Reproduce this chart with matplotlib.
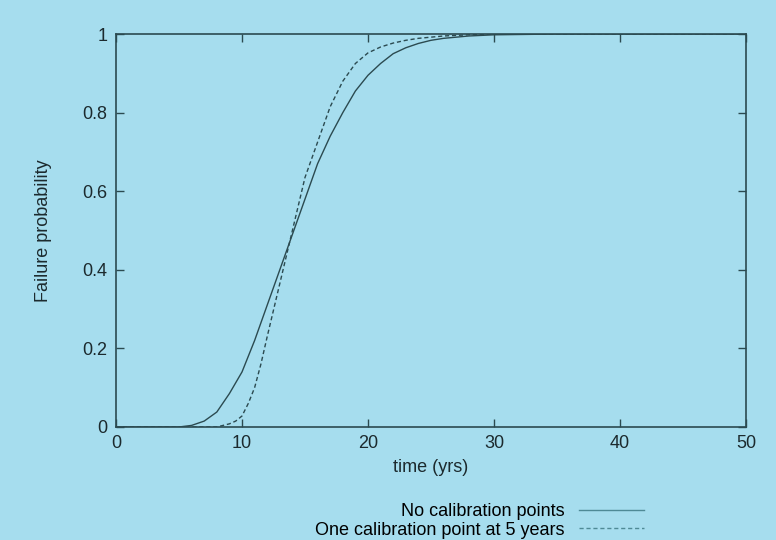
# failure probability vs time, two calibration cases (gnuplot-style look)

import matplotlib
matplotlib.use('Agg')
import matplotlib.pyplot as plt

plt.rcParams['font.family'] = ['Liberation Sans', 'DejaVu Sans']

bg = '#a6ddee'
ink = '#2b4a50'

# no calibration points
t_nocal = [0, 5, 6, 7, 8, 9, 10, 11, 12, 13, 14, 15, 16, 17, 18, 19, 20,
           21, 22, 23, 24, 25, 26, 28, 30, 35, 50]
p_nocal = [0, 0, 0.004, 0.015, 0.038, 0.085, 0.14, 0.22, 0.31, 0.40, 0.49,
           0.58, 0.67, 0.74, 0.80, 0.855, 0.895, 0.925, 0.95, 0.965, 0.976,
           0.984, 0.989, 0.995, 0.998, 1.0, 1.0]

# one calibration point at 5 years
t_cal = [0, 8, 8.5, 9, 9.5, 10, 10.5, 11, 11.5, 12, 13, 14, 15, 16, 17, 18,
         19, 20, 21, 22, 23, 24, 25, 26, 28, 30, 50]
p_cal = [0, 0, 0.004, 0.008, 0.015, 0.028, 0.06, 0.10, 0.16, 0.23, 0.365,
         0.50, 0.635, 0.725, 0.815, 0.88, 0.925, 0.952, 0.967, 0.977, 0.984,
         0.989, 0.992, 0.995, 0.998, 1.0, 1.0]

xticks = [0, 10, 20, 30, 40, 50]
yticks = [0, 0.2, 0.4, 0.6, 0.8, 1]
ytick_labels = ['0', '0.2', '0.4', '0.6', '0.8', '1']

fig = plt.figure(figsize=(7.76, 5.40), dpi=100, facecolor=bg)
ax = fig.add_axes([0.1495, 0.2093, 0.8118, 0.7277], facecolor=bg)

ax.plot(t_nocal, p_nocal, color=ink, lw=1.0, label='No calibration points')
ax.plot(t_cal, p_cal, color=ink, lw=1.0, linestyle=(0, (3, 2)),
        label='One calibration point at 5 years')

ax.set_xlim(0, 50)
ax.set_ylim(0, 1)
ax.set_xticks(xticks)
ax.set_yticks(yticks)
ax.set_yticklabels(ytick_labels)
ax.tick_params(direction='in', length=6, width=1, color=ink, labelcolor='#1c2a2e',
               labelsize=13, top=True, right=True, pad=6)
for s in ax.spines.values():
    s.set_color(ink)
    s.set_linewidth(1.2)

ax.set_xlabel('time (yrs)', fontsize=13, color='#1c2a2e', labelpad=5)
ax.set_ylabel('Failure probability', fontsize=13, color='#1c2a2e', labelpad=22)

leg = ax.legend(loc='upper right', bbox_to_anchor=(0.85, -0.175), frameon=False,
                markerfirst=False, fontsize=13, handlelength=3.6, labelspacing=0.1,
                borderaxespad=0, handletextpad=0.8)
for h in leg.get_lines():
    h.set_color('#4f8a96')

plt.savefig('out.png', dpi=100, facecolor=bg)
